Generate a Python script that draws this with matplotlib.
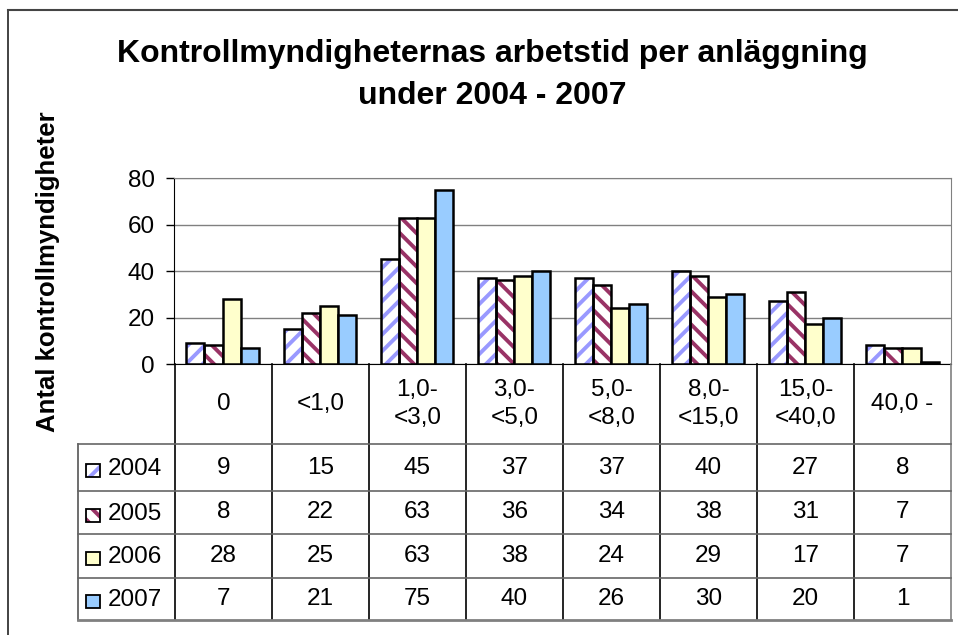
import matplotlib.pyplot as plt
import numpy as np
from matplotlib.patches import Rectangle
from matplotlib.lines import Line2D

plt.rcParams['font.family'] = ['Liberation Sans', 'DejaVu Sans']
plt.rcParams['hatch.linewidth'] = 2.8

categories = ['0', '<1,0', '1,0-\n<3,0', '3,0-\n<5,0', '5,0-\n<8,0',
              '8,0-\n<15,0', '15,0-\n<40,0', '40,0 -']
years = ['2004', '2005', '2006', '2007']
v2004 = [9, 15, 45, 37, 37, 40, 27, 8]
v2005 = [8, 22, 63, 36, 34, 38, 31, 7]
v2006 = [28, 25, 63, 38, 24, 29, 17, 7]
v2007 = [7, 21, 75, 40, 26, 30, 20, 1]
series = [v2004, v2005, v2006, v2007]

faces = ['white', 'white', '#FFFFCC', '#99CCFF']
hatch_colors = ['#9999FF', '#993366', None, None]
hatches = ['//', '\\\\', None, None]

W, H = 958, 635
fs = 17.5
fig = plt.figure(figsize=(W / 100, H / 100), dpi=100)

# outer frame (cut off at right and bottom)
fig.add_artist(Line2D([8 / W, 8 / W], [0, 1 - 10 / H], color='#222222', lw=1.2))
fig.add_artist(Line2D([8 / W, 1], [1 - 10 / H, 1 - 10 / H], color='#444444', lw=1.5))

ax = fig.add_axes([174 / W, 1 - 364 / H, (951 - 174) / W, (364 - 178) / H])
x = np.arange(len(categories))
bw = 0.186
for j, vals in enumerate(series):
    pos = x + (j - 1.5) * bw
    if hatches[j]:
        ax.bar(pos, vals, bw, color='white', edgecolor=hatch_colors[j],
               hatch=hatches[j], linewidth=0, zorder=3)
        ax.bar(pos, vals, bw, color='none', edgecolor='black', linewidth=1.8, zorder=4)
    else:
        ax.bar(pos, vals, bw, color=faces[j], edgecolor='black', linewidth=1.8, zorder=4)

ax.set_xlim(-0.5, 7.5)
ax.set_ylim(0, 80)
ax.set_yticks([0, 20, 40, 60, 80])
ax.set_xticks([])
ax.tick_params(axis='y', labelsize=fs, length=6, width=1, pad=8, direction='out')
ax.yaxis.grid(True, color='#808080', linewidth=1)
ax.set_axisbelow(True)
for s in ['top', 'right']:
    ax.spines[s].set_color('#808080')
ax.spines['left'].set_color('black')
ax.spines['bottom'].set_color('black')

fig.text(492 / W, 1 - 54 / H, 'Kontrollmyndigheternas arbetstid per anläggning',
         ha='center', va='center', fontsize=23, fontweight='bold')
fig.text(492 / W, 1 - 96 / H, 'under 2004 - 2007',
         ha='center', va='center', fontsize=23, fontweight='bold')
fig.text(48 / W, 1 - 272 / H, 'Antal kontrollmyndigheter', rotation=90,
         ha='center', va='center', fontsize=18.5, fontweight='bold')

# data table below the bars
tx = fig.add_axes([78 / W, 1 - 620 / H, (951 - 78) / W, (620 - 364) / H])
tx.set_xlim(-1.5, 7.5)
tx.set_ylim(620, 364)
tx.axis('off')
row_lines = [444, 491, 534, 578, 620]

for k in range(len(categories) + 1):
    tx.plot([k - 0.5, k - 0.5], [364, 620], color='black' if k < len(categories) else '#808080',
            lw=1.2, clip_on=False)
tx.plot([-1.5, -1.5], [444, 620], color='#555555', lw=1.2, clip_on=False)
for y0 in row_lines:
    tx.plot([-1.5, 7.5], [y0, y0], color='#666666' if y0 < 620 else '#808080',
            lw=1.2 if y0 < 620 else 2, clip_on=False)

for i, c in enumerate(categories):
    tx.text(i, 404, c, ha='center', va='center', fontsize=fs, linespacing=1.35)

for j, vals in enumerate(series):
    yc = (row_lines[j] + row_lines[j + 1]) / 2
    for i, v in enumerate(vals):
        tx.text(i, yc, str(v), ha='center', va='center', fontsize=fs)
    tx.text(-1.195, yc + 1, years[j], ha='left', va='center', fontsize=fs)
    sq = 0.14
    ys = yc - 4
    if hatches[j]:
        tx.add_patch(Rectangle((-1.415, ys), sq, 13, facecolor='white',
                               edgecolor=hatch_colors[j], hatch=hatches[j], lw=0))
        tx.add_patch(Rectangle((-1.415, ys), sq, 13, facecolor='none',
                               edgecolor='black', lw=1.3))
    else:
        tx.add_patch(Rectangle((-1.415, ys), sq, 13, facecolor=faces[j],
                               edgecolor='black', lw=1.3))

fig.savefig('out.png', dpi=100)
